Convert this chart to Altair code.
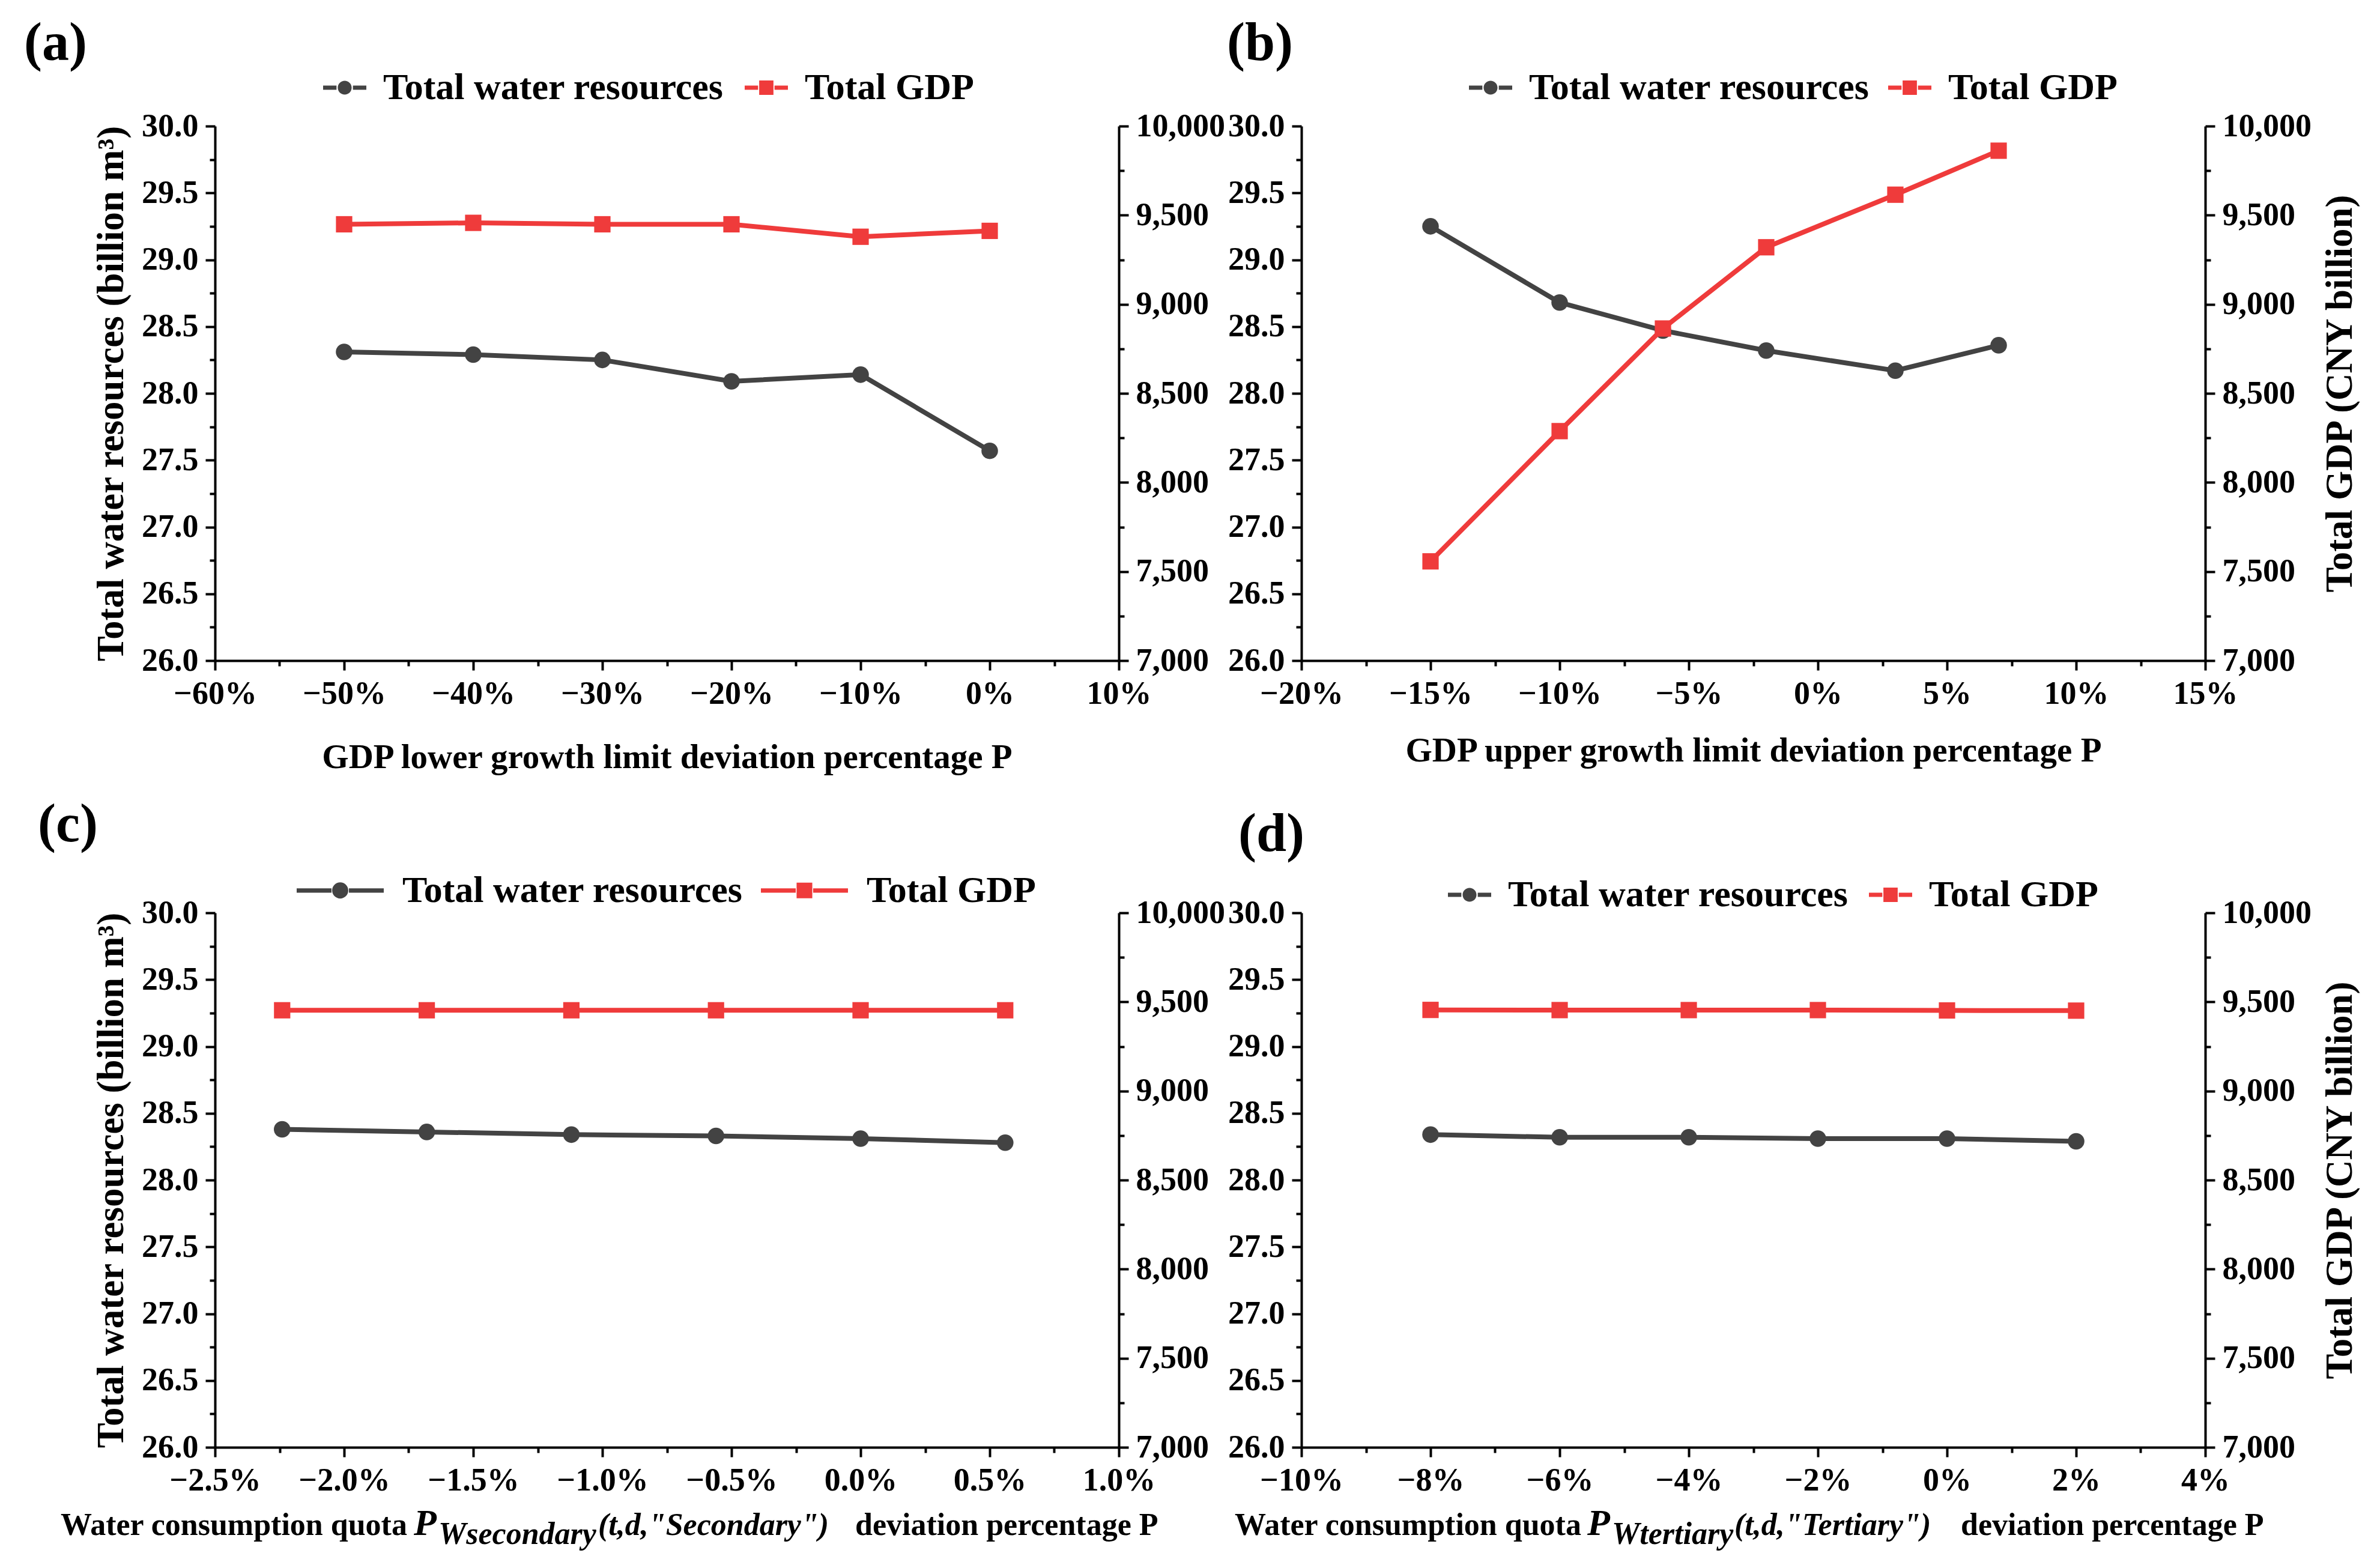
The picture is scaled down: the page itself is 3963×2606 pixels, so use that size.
import altair as alt
import pandas as pd

FONT = "Liberation Serif"
GRAY = "#434343"
RED = "#ef3b3b"
SERIES = ["Total water resources", "Total GDP"]

# ---------------- data ----------------
a_x = [-0.50, -0.40, -0.30, -0.20, -0.10, 0.00]
a_water = [28.31, 28.29, 28.25, 28.09, 28.14, 27.57]
a_gdp = [9449, 9457, 9449, 9449, 9379, 9412]

b_x = [-0.15, -0.10, -0.06, -0.02, 0.03, 0.07]
b_water = [29.25, 28.68, 28.47, 28.32, 28.17, 28.36]
b_gdp = [7557, 8288, 8864, 9320, 9615, 9862]

c_x = [-0.0224, -0.0168, -0.0112, -0.0056, 0.0, 0.0056]
c_water = [28.38, 28.36, 28.34, 28.33, 28.31, 28.28]
c_gdp = [9453, 9453, 9453, 9453, 9453, 9453]

d_x = [-0.08, -0.06, -0.04, -0.02, 0.0, 0.02]
d_water = [28.34, 28.32, 28.32, 28.31, 28.31, 28.29]
d_gdp = [9455, 9454, 9454, 9454, 9452, 9451]

# ---------------- tick values ----------------
W_TICKS = [26.0, 26.5, 27.0, 27.5, 28.0, 28.5, 29.0, 29.5, 30.0]
W_MINOR = [26.25, 26.75, 27.25, 27.75, 28.25, 28.75, 29.25, 29.75]
G_TICKS = [7000, 7500, 8000, 8500, 9000, 9500, 10000]
G_MINOR = [7250, 7750, 8250, 8750, 9250, 9750]

a_ticks = [-0.6, -0.5, -0.4, -0.3, -0.2, -0.1, 0.0, 0.1]
a_minor = [-0.55, -0.45, -0.35, -0.25, -0.15, -0.05, 0.05]
b_ticks = [-0.20, -0.15, -0.10, -0.05, 0.0, 0.05, 0.10, 0.15]
b_minor = [-0.175, -0.125, -0.075, -0.025, 0.025, 0.075, 0.125]
c_ticks = [-0.025, -0.020, -0.015, -0.010, -0.005, 0.0, 0.005, 0.010]
c_minor = [-0.0225, -0.0175, -0.0125, -0.0075, -0.0025, 0.0025, 0.0075]
d_ticks = [-0.10, -0.08, -0.06, -0.04, -0.02, 0.0, 0.02, 0.04]
d_minor = [-0.09, -0.07, -0.05, -0.03, -0.01, 0.01, 0.03]

# ---------------- texts ----------------
LEFT_TITLE = "Total water resources (billion m\u00b3)"
RIGHT_TITLE = "Total GDP (CNY billion)"
A_XTITLE = "GDP lower growth limit deviation percentage P"
B_XTITLE = "GDP upper growth limit deviation percentage P"
C_XTITLE = ["Water consumption quota", "P", "Wsecondary", '(t,d,"Secondary")',
            "deviation percentage P"]
D_XTITLE = ["Water consumption quota", "P", "Wtertiary", '(t,d,"Tertiary")',
            "deviation percentage P"]
XT_STYLE = ["normal", "italic", "italic", "italic", "normal"]
XT_SIZE = [52, 62, 52, 52, 52]
XT_DROP = [0, 0, 15, 0, 0]
C_XT_POS = [-257, 331, 372, 638, 1066]
D_XT_POS = [-111, 476, 517, 721, 1098]

# legend symbol shapes (line + marker), unit square paths
CIRC_SHORT = ("M-1,-0.1L-0.38,-0.1L-0.38,0.1L-1,0.1Z M0.38,-0.1L1,-0.1L1,0.1L0.38,0.1Z "
              "M-0.32,0A0.32,0.32 0 1 1 0.32,0A0.32,0.32 0 1 1 -0.32,0Z")
SQ_SHORT = ("M-1,-0.1L-0.38,-0.1L-0.38,0.1L-1,0.1Z M0.38,-0.1L1,-0.1L1,0.1L0.38,0.1Z "
            "M-0.33,-0.33L0.33,-0.33L0.33,0.33L-0.33,0.33Z")
CIRC_LONG = ("M-1,-0.05L-0.2,-0.05L-0.2,0.05L-1,0.05Z M0.2,-0.05L1,-0.05L1,0.05L0.2,0.05Z "
             "M-0.185,0A0.185,0.185 0 1 1 0.185,0A0.185,0.185 0 1 1 -0.185,0Z")
SQ_LONG = ("M-1,-0.05L-0.2,-0.05L-0.2,0.05L-1,0.05Z M0.2,-0.05L1,-0.05L1,0.05L0.2,0.05Z "
           "M-0.18,-0.18L0.18,-0.18L0.18,0.18L-0.18,0.18Z")

W, H = 1505, 890


def title_pieces(texts, positions, base_y):
    layers = []
    for txt, px, style, size, drop in zip(texts, positions, XT_STYLE, XT_SIZE, XT_DROP):
        layers.append(
            alt.Chart(pd.DataFrame({"t": [txt]})).mark_text(
                align="left", baseline="alphabetic", font=FONT, fontSize=size,
                fontWeight="bold", fontStyle=style, color="black").encode(
                text="t:N", x=alt.value(px), y=alt.value(base_y + drop)))
    return layers


def panel(xs, water, gdp, xdom, xticks, xminor, xfmt, xtitle, xt_opts, label, ldx, ldy,
          left_title, right_title, legx, legy, paths, symsize, laboff, colpad,
          pieces=None):
    df = pd.DataFrame({"x": xs, "water": water, "gdp": gdp})
    base = alt.Chart(df)
    xsc = alt.Scale(domain=xdom, nice=False, zero=False)
    wsc = alt.Scale(domain=[26, 30], nice=False, zero=False)
    gsc = alt.Scale(domain=[7000, 10000], nice=False, zero=False)

    if xtitle:
        x_major = alt.Axis(orient="bottom", values=xticks, format=xfmt, title=xtitle,
                           titleFontSize=57, titleBaseline="alphabetic", **xt_opts)
    else:
        x_major = alt.Axis(orient="bottom", values=xticks, format=xfmt, title=None)
    x_minor = alt.Axis(orient="bottom", values=xminor, labels=False, domain=False,
                       tickSize=9, title=None)
    yl_kw = dict(orient="left", values=W_TICKS, format=".1f", titleFontSize=63,
                 titlePadding=18)
    if left_title:
        yl_major = alt.Axis(title=left_title, **yl_kw)
    else:
        yl_major = alt.Axis(title=None, **yl_kw)
    yl_minor = alt.Axis(orient="left", values=W_MINOR, labels=False, domain=False,
                        tickSize=9, title=None)
    yr_kw = dict(orient="right", values=G_TICKS, format=",d", titleFontSize=63,
                 titleAngle=270, titleBaseline="top", titlePadding=17)
    if right_title:
        yr_major = alt.Axis(title=right_title, **yr_kw)
    else:
        yr_major = alt.Axis(title=None, **yr_kw)
    yr_minor = alt.Axis(orient="right", values=G_MINOR, labels=False, domain=False,
                        tickSize=9, title=None)

    water_line = base.mark_line(color=GRAY, strokeWidth=8).encode(
        x=alt.X("x:Q", scale=xsc, axis=x_major),
        y=alt.Y("water:Q", scale=wsc, axis=yl_major))
    water_pts = base.mark_point(filled=True, shape="circle", size=760, color=GRAY,
                                opacity=1).encode(
        x=alt.X("x:Q", scale=xsc, axis=x_minor),
        y=alt.Y("water:Q", scale=wsc, axis=yl_minor))
    gdp_line = base.mark_line(color=RED, strokeWidth=8).encode(
        x=alt.X("x:Q", scale=xsc, axis=None),
        y=alt.Y("gdp:Q", scale=gsc, axis=yr_major))
    gdp_pts = base.mark_point(filled=True, shape="square", size=740, color=RED,
                              opacity=1).encode(
        x=alt.X("x:Q", scale=xsc, axis=None),
        y=alt.Y("gdp:Q", scale=gsc, axis=yr_minor))

    leg_kw = dict(orient="none", legendX=legx, legendY=legy, direction="horizontal",
                  title=None, labelFont=FONT, labelFontSize=62, labelFontWeight="bold",
                  labelColor="black", symbolSize=symsize, symbolStrokeWidth=0,
                  symbolOpacity=1, labelOffset=laboff, columnPadding=colpad,
                  labelLimit=3000, padding=0)
    leg_df = pd.DataFrame({"series": SERIES})
    legend_layer = alt.Chart(leg_df).transform_filter("false").mark_point(
        filled=True, opacity=1).encode(
        color=alt.Color("series:N", scale=alt.Scale(domain=SERIES, range=[GRAY, RED]),
                        legend=alt.Legend(**leg_kw)),
        shape=alt.Shape("series:N", scale=alt.Scale(domain=SERIES, range=paths),
                        legend=alt.Legend(**leg_kw)))

    layers = [water_line, water_pts, gdp_line, gdp_pts, legend_layer]
    if pieces:
        layers += title_pieces(pieces[0], pieces[1], H + 146)

    return alt.layer(*layers).resolve_scale(
        x="independent", y="independent").properties(
        width=W, height=H,
        title=alt.TitleParams(text=label, anchor="start", frame="group", font=FONT,
                              fontSize=90, fontWeight="bold", color="black",
                              dx=ldx, dy=ldy, offset=0))


pa = panel(a_x, a_water, a_gdp, [-0.6, 0.1], a_ticks, a_minor, ".0%",
           A_XTITLE, dict(titleY=178),
           "(a)", -318, 9, LEFT_TITLE, None, 180, -100, [CIRC_SHORT, SQ_SHORT], 5184, 28, 34)
pb = panel(b_x, b_water, b_gdp, [-0.20, 0.15], b_ticks, b_minor, ".0%",
           B_XTITLE, dict(titleY=167),
           "(b)", -124, 9, None, RIGHT_TITLE, 279, -100, [CIRC_SHORT, SQ_SHORT], 5184, 28, 30)
pc = panel(c_x, c_water, c_gdp, [-0.025, 0.010], c_ticks, c_minor, ".1%",
           None, {},
           "(c)", -295, 10, LEFT_TITLE, None, 136, -110, [CIRC_LONG, SQ_LONG], 21025, 31, 29,
           pieces=(C_XTITLE, C_XT_POS))
pd_ = panel(d_x, d_water, d_gdp, [-0.10, 0.04], d_ticks, d_minor, ".0%",
            None, {},
            "(d)", -105, -18, None, RIGHT_TITLE, 244, -66, [CIRC_SHORT, SQ_SHORT], 5184, 28, 33,
            pieces=(D_XTITLE, D_XT_POS))

chart = alt.concat(pa, pb, pc, pd_, columns=2, spacing={"row": 420, "column": 304},
                   bounds="flush").resolve_scale(
    color="independent", shape="independent").resolve_legend(
    color="independent", shape="independent").configure_axis(
    labelFont=FONT, labelFontSize=54, labelFontWeight="bold", labelColor="black",
    tickColor="black", tickWidth=4, tickSize=16, domainColor="black", domainWidth=4,
    titleFont=FONT, titleFontWeight="bold", titleColor="black", grid=False,
    labelFlush=False, labelOverlap=False, labelPadding=12).configure_view(
    strokeWidth=0).properties(
    padding={"left": 32, "top": 20, "right": 5, "bottom": 5}, background="white")

chart.save("out.html", embed_options={"renderer": "svg", "actions": False})
